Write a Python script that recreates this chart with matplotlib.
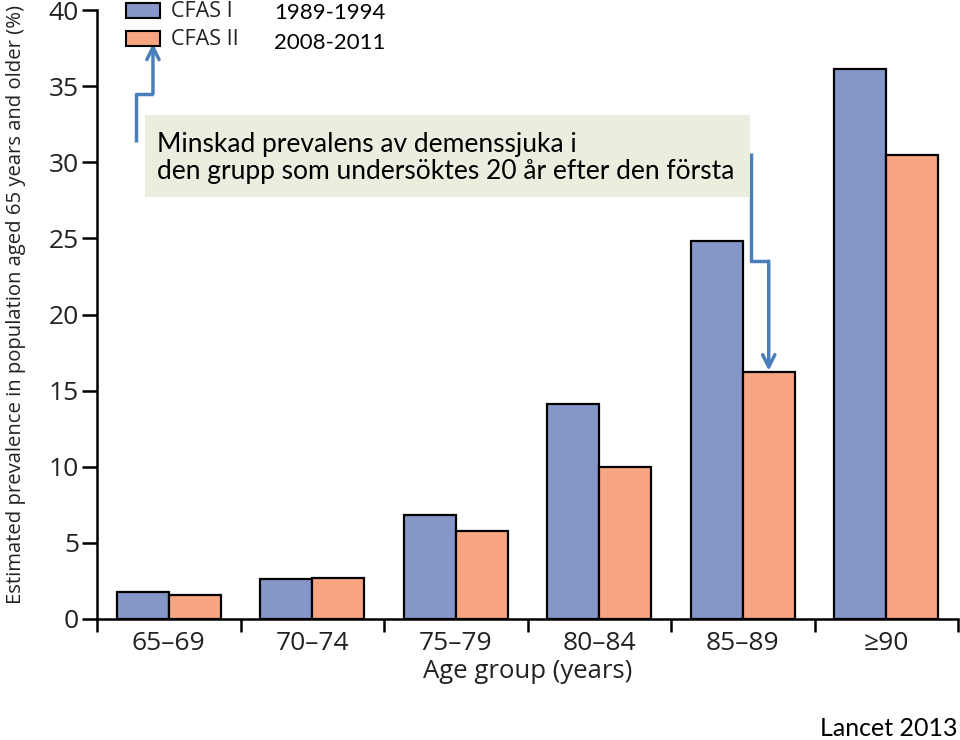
import matplotlib.pyplot as plt
import numpy as np

# Data
age_groups = ["65\u201369", "70\u201374", "75\u201379", "80\u201384", "85\u201389", "\u226590"]
cfas1 = [1.8, 2.6, 6.8, 14.1, 24.8, 36.1]
cfas2 = [1.6, 2.7, 5.8, 10.0, 16.2, 30.5]
yticks = [0, 5, 10, 15, 20, 25, 30, 35, 40]
legend_labels = ["CFAS I", "CFAS II"]
legend_years = ["1989-1994", "2008-2011"]

blue = "#8597C8"
orange = "#F8A682"
arrow_col = "#4A7EBB"
box_col = "#EAEEDE"
txt = "#222222"

fig = plt.figure(figsize=(9.6, 7.4), dpi=100)
ax = fig.add_axes([97 / 960, 121 / 740, 861 / 960, 609 / 740])

x = np.arange(len(age_groups))
w = 0.362
ax.bar(x - w / 2, cfas1, w, color=blue, edgecolor="black", linewidth=1.6, zorder=3)
ax.bar(x + w / 2, cfas2, w, color=orange, edgecolor="black", linewidth=1.6, zorder=3)

ax.set_xlim(-0.5, len(age_groups) - 0.5)
ax.set_ylim(0, 40)
ax.spines["top"].set_visible(False)
ax.spines["right"].set_visible(False)
ax.spines["left"].set_linewidth(1.8)
ax.spines["bottom"].set_linewidth(1.8)

ax.set_yticks(yticks)
ax.tick_params(axis="y", length=11, width=1.8, labelsize=19, pad=2)
ax.set_xticks(x)
ax.set_xticklabels(age_groups)
ax.tick_params(axis="x", length=0, labelsize=19, pad=9)
ax.set_xticks(np.arange(len(age_groups) + 1) - 0.5, minor=True)
ax.tick_params(axis="x", which="minor", length=9, width=1.8)
for lab in ax.get_xticklabels() + ax.get_yticklabels():
    lab.set_family("Open Sans")
    lab.set_color(txt)

ax.set_xlabel("Age group (years)", fontsize=18.5, family="Open Sans", labelpad=2, color=txt)
fig.text(16 / 960, 1 - 305 / 740, "Estimated prevalence in population aged 65 years and older (%)",
         rotation=90, ha="center", va="center", fontsize=14.6, family="Open Sans", color=txt)

# Legend drawn by hand in figure pixels (baselines)
for i, (lab, yr, col) in enumerate(zip(legend_labels, legend_years, [blue, orange])):
    ytop = 740 - 3 - i * 28
    fig.patches.append(plt.Rectangle((126 / 960, (ytop - 15) / 740), 34 / 960, 15 / 740,
                                     transform=fig.transFigure, facecolor=col,
                                     edgecolor="black", linewidth=1.5))
    fig.text(171 / 960, (740 - 17 - i * 28) / 740, lab, fontsize=15.5, family="Open Sans",
             va="baseline", ha="left", color=txt)
    fig.text(274 / 960, (740 - 19 - i * 30) / 740, yr, fontsize=16, family="Lato",
             va="baseline", ha="left", color="black")

# Annotation box
fig.patches.append(plt.Rectangle((145 / 960, (740 - 197) / 740), 605 / 960, 82 / 740,
                                 transform=fig.transFigure, facecolor=box_col,
                                 edgecolor="none", zorder=5))
fig.text(157 / 960, (740 - 158) / 740,
         "Minskad prevalens av demenssjuka i\nden grupp som undersöktes 20 år efter den första",
         fontsize=19, family="Lato", va="center", ha="left", linespacing=1.1, zorder=6)

# Arrow to legend
ax.plot([-0.228, -0.228, -0.11], [31.3, 34.5, 34.5], color=arrow_col, lw=2.5,
        clip_on=False, zorder=4, solid_capstyle="butt")
ax.annotate("", xy=(-0.11, 37.8), xytext=(-0.11, 34.5),
            arrowprops=dict(arrowstyle="->", color=arrow_col, lw=2.5, mutation_scale=22,
                            shrinkA=0, shrinkB=0), annotation_clip=False)

# Arrow to CFAS II 85-89 bar
tx = x[4] + w / 2
ax.plot([4.057, 4.057, tx], [30.6, 23.5, 23.5], color=arrow_col, lw=2.5, zorder=4,
        solid_capstyle="butt")
ax.annotate("", xy=(tx, cfas2[4] + 0.1), xytext=(tx, 23.5),
            arrowprops=dict(arrowstyle="->", color=arrow_col, lw=2.5, mutation_scale=22,
                            shrinkA=0, shrinkB=0), zorder=4)

fig.text(958 / 960, 12 / 740, "Lancet 2013", fontsize=18, family="Lato",
         ha="right", va="center")

fig.savefig("out.png", dpi=100)
